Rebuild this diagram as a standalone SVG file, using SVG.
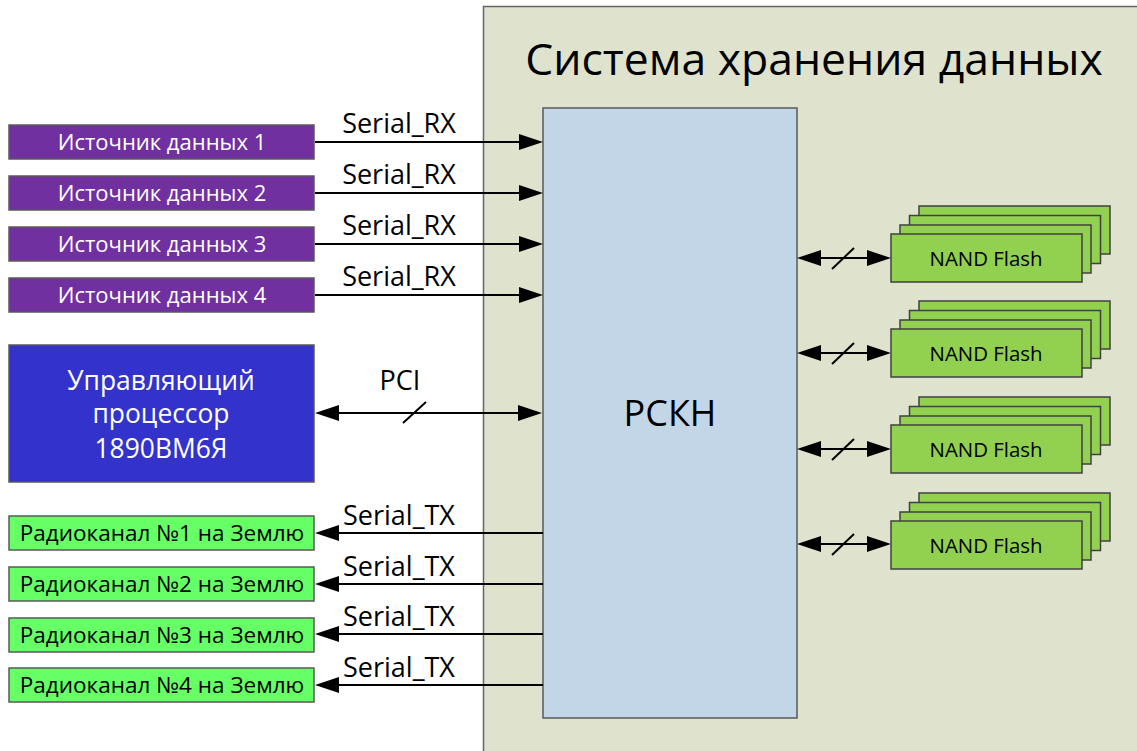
<svg xmlns="http://www.w3.org/2000/svg" width="1137" height="751" viewBox="0 0 1137 751">
  <style>
    text { font-family: "Open Sans", "Noto Sans", "DejaVu Sans", sans-serif; text-anchor: middle; }
    .src rect { fill: #7030a0; stroke: #595959; stroke-width: 1.5; }
    .src text { fill: #ffffff; font-size: 22px; }
    .radio rect { fill: #66ff66; stroke: #595959; stroke-width: 1.5; }
    .radio text { fill: #000000; font-size: 22.5px; }
    .nand text { fill: #000000; font-size: 20.4px; }
    .wire { stroke: #000000; stroke-width: 2; fill: none; }
    .lbl { fill: #000000; font-size: 27px; }
  </style>
  <defs>
    <marker id="head" markerUnits="userSpaceOnUse" markerWidth="24" markerHeight="16" refX="4" refY="8" orient="auto-start-reverse">
      <path d="M0,0 L24,8 L0,16 z" fill="#000000"/>
    </marker>
    <!-- four stacked flash chips, front one at the origin -->
    <g id="stack" fill="#92d050" stroke="#404040" stroke-width="1.5">
      <rect x="28" y="-28" width="191" height="48"/>
      <rect x="18.5" y="-18.5" width="191" height="48"/>
      <rect x="9" y="-9" width="191" height="48"/>
      <rect x="0" y="0" width="191" height="48"/>
    </g>
  </defs>

  <!-- storage system container -->
  <g id="storage-system">
    <rect x="483.5" y="6.5" width="700" height="800" fill="#dfe3cd" stroke="#666666" stroke-width="1.5"/>
    <text x="814" y="75" font-size="44.5" fill="#000000">Система хранения данных</text>
  </g>

  <!-- central controller -->
  <g id="rskn">
    <rect x="543" y="108" width="254" height="610" fill="#c3d6e8" stroke="#595959" stroke-width="1.5"/>
    <text x="670" y="426" font-size="36" fill="#000000">РСКН</text>
  </g>

  <!-- connectors -->
  <g id="connectors">
    <path class="wire" d="M315,142 H523" marker-end="url(#head)"/>
    <path class="wire" d="M315,193 H523" marker-end="url(#head)"/>
    <path class="wire" d="M315,244 H523" marker-end="url(#head)"/>
    <path class="wire" d="M315,295 H523" marker-end="url(#head)"/>

    <path class="wire" d="M335,413 H522" marker-start="url(#head)" marker-end="url(#head)"/>
    <path class="wire" d="M403,423 L426,402"/>

    <path class="wire" d="M543,533 H335" marker-end="url(#head)"/>
    <path class="wire" d="M543,584 H335" marker-end="url(#head)"/>
    <path class="wire" d="M543,634 H335" marker-end="url(#head)"/>
    <path class="wire" d="M543,685 H335" marker-end="url(#head)"/>

    <path class="wire" d="M817,258 H871" marker-start="url(#head)" marker-end="url(#head)"/>
    <path class="wire" d="M832,269 L854,248"/>
    <path class="wire" d="M817,353 H871" marker-start="url(#head)" marker-end="url(#head)"/>
    <path class="wire" d="M832,364 L854,343"/>
    <path class="wire" d="M817,449 H871" marker-start="url(#head)" marker-end="url(#head)"/>
    <path class="wire" d="M832,460 L854,439"/>
    <path class="wire" d="M817,544 H871" marker-start="url(#head)" marker-end="url(#head)"/>
    <path class="wire" d="M832,555 L854,534"/>

    <text class="lbl" x="399" y="133">Serial_RX</text>
    <text class="lbl" x="399" y="184">Serial_RX</text>
    <text class="lbl" x="399" y="235">Serial_RX</text>
    <text class="lbl" x="399" y="286">Serial_RX</text>
    <text class="lbl" x="400" y="390">PCI</text>
    <text class="lbl" x="399" y="525">Serial_TX</text>
    <text class="lbl" x="399" y="576">Serial_TX</text>
    <text class="lbl" x="399" y="626">Serial_TX</text>
    <text class="lbl" x="399" y="677">Serial_TX</text>
  </g>

  <!-- data sources -->
  <g id="source-1" class="src"><rect x="9" y="125" width="305" height="34"/><text x="162" y="150">Источник данных 1</text></g>
  <g id="source-2" class="src"><rect x="9" y="176" width="305" height="34"/><text x="162" y="201">Источник данных 2</text></g>
  <g id="source-3" class="src"><rect x="9" y="227" width="305" height="34"/><text x="162" y="252">Источник данных 3</text></g>
  <g id="source-4" class="src"><rect x="9" y="278" width="305" height="34"/><text x="162" y="303">Источник данных 4</text></g>

  <!-- control processor -->
  <g id="cpu">
    <rect x="9" y="345" width="305" height="137" fill="#3333cc" stroke="#595959" stroke-width="1.5"/>
    <text x="161" y="390" font-size="26.4" fill="#ffffff">Управляющий</text>
    <text x="161" y="423" font-size="26.4" fill="#ffffff">процессор</text>
    <text x="161" y="458" font-size="26.4" fill="#ffffff">1890ВМ6Я</text>
  </g>

  <!-- radio channels -->
  <g id="radio-1" class="radio"><rect x="9" y="516" width="305" height="34"/><text x="162" y="541">Радиоканал №1 на Землю</text></g>
  <g id="radio-2" class="radio"><rect x="9" y="567" width="305" height="34"/><text x="162" y="592">Радиоканал №2 на Землю</text></g>
  <g id="radio-3" class="radio"><rect x="9" y="618" width="305" height="34"/><text x="162" y="643">Радиоканал №3 на Землю</text></g>
  <g id="radio-4" class="radio"><rect x="9" y="668" width="305" height="34"/><text x="162" y="693">Радиоканал №4 на Землю</text></g>

  <!-- NAND flash stacks -->
  <g id="nand-1" class="nand"><use href="#stack" x="891" y="234"/><text x="986" y="266">NAND Flash</text></g>
  <g id="nand-2" class="nand"><use href="#stack" x="891" y="329"/><text x="986" y="361">NAND Flash</text></g>
  <g id="nand-3" class="nand"><use href="#stack" x="891" y="425"/><text x="986" y="457">NAND Flash</text></g>
  <g id="nand-4" class="nand"><use href="#stack" x="891" y="521"/><text x="986" y="553">NAND Flash</text></g>
</svg>
